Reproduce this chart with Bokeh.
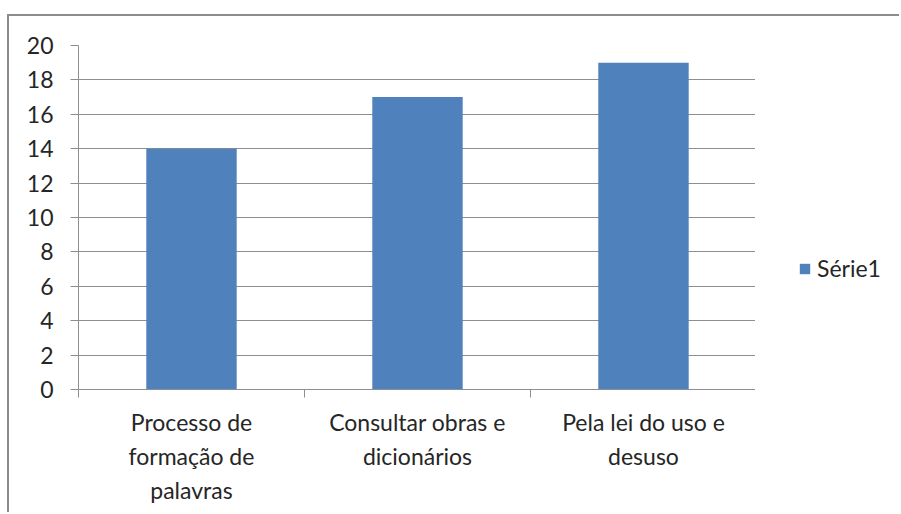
from bokeh.plotting import figure
from bokeh.layouts import row
from bokeh.models import (FactorRange, Range1d, LinearAxis, FixedTicker,
                          Legend, LegendItem, ColumnDataSource)
from bokeh.embed import file_html
from bokeh.resources import INLINE

categories = ["Processo de\nformação de\npalavras",
              "Consultar obras e\ndicionários",
              "Pela lei do uso e\ndesuso"]
values = [14, 17, 19]
series_name = "Série1"
y_ticks = [0, 2, 4, 6, 8, 10, 12, 14, 16, 18, 20]

BAR = "#4F81BD"
GRID = "#8e8e8e"
TEXT = "#262626"
FONT = "Lato"
FS = "23px"
BORDER = "2px solid #8c8c8c"

src = ColumnDataSource(dict(cat=categories, val=values))

p = figure(width=748, height=498,
           x_range=FactorRange(*categories, range_padding=0),
           y_range=Range1d(y_ticks[0], y_ticks[-1]),
           output_backend="svg", toolbar_location=None,
           min_border_left=69, min_border_right=1,
           min_border_top=29, min_border_bottom=125,
           margin=(14, 0, 0, 7))
p.styles = {"border-top": BORDER, "border-left": BORDER}
p.outline_line_color = None
p.background_fill_color = "white"
p.border_fill_color = "white"

p.vbar(x="cat", top="val", width=0.4, source=src, fill_color=BAR, line_color=None)

# y axis
ya = p.yaxis[0]
ya.ticker = FixedTicker(ticks=y_ticks)
ya.axis_line_color = GRID
ya.major_tick_line_color = GRID
ya.major_tick_in = 0
ya.major_tick_out = 8
ya.minor_tick_line_color = None
ya.major_label_standoff = 17
ya.major_label_text_font = FONT
ya.major_label_text_font_size = FS
ya.major_label_text_color = TEXT

p.ygrid.grid_line_color = GRID
p.xgrid.visible = False

# category axis (labels only)
xa = p.xaxis[0]
xa.axis_line_color = None
xa.major_tick_line_color = None
xa.minor_tick_line_color = None
xa.major_label_standoff = 4
xa.major_label_text_font = FONT
xa.major_label_text_font_size = FS
xa.major_label_text_color = TEXT
xa.major_label_text_line_height = 1.23
xa.major_label_orientation = "horizontal"

# separator ticks at the category boundaries (synthetic coordinates 0..n)
sep = LinearAxis(ticker=FixedTicker(ticks=list(range(len(categories) + 1))),
                 major_tick_in=0, major_tick_out=8,
                 major_tick_line_color=GRID, axis_line_color=GRID,
                 minor_tick_line_color=None,
                 major_label_text_font_size="0px", major_label_standoff=0)
p.below = [sep] + list(p.below)

# legend area (same series, hidden renderer; only its legend entry is shown)
lf = figure(width=144, height=498,
            x_range=FactorRange(*categories, range_padding=0),
            y_range=Range1d(-2, -1),
            output_backend="svg", toolbar_location=None,
            x_axis_location=None, y_axis_location=None,
            min_border=0, margin=(14, 0, 0, 0))
lf.styles = {"border-top": BORDER}
lf.outline_line_color = None
lf.grid.visible = False
lf.background_fill_color = "white"
lf.border_fill_color = "white"
lr = lf.vbar(x="cat", top="val", width=0.4, source=src, fill_color=BAR, line_color=None)
lr.visible = False

legend = Legend(items=[LegendItem(label=series_name, renderers=[lr])],
                location=(43, 106), orientation="vertical",
                padding=0, margin=0, spacing=0,
                border_line_color=None, background_fill_alpha=0,
                inactive_fill_alpha=0,
                glyph_width=13, glyph_height=13, label_height=30,
                label_standoff=6,
                label_text_font=FONT, label_text_font_size=FS,
                label_text_color=TEXT)
lf.add_layout(legend)

layout = row(p, lf, spacing=0)
open("out.html", "w").write(file_html(layout, INLINE))
